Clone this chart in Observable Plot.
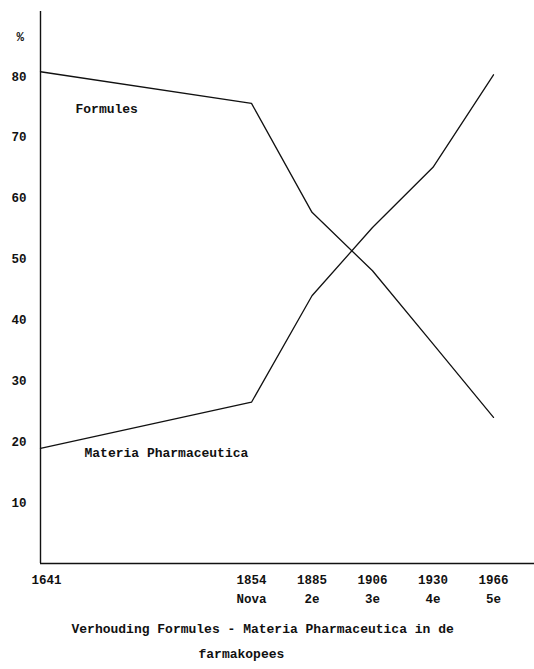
<!DOCTYPE html>
<html>
<head>
<meta charset="utf-8">
<script src="https://cdn.jsdelivr.net/npm/d3@7"></script>
<script src="https://cdn.jsdelivr.net/npm/@observablehq/plot@0.6"></script>
<style>
  html, body { margin: 0; padding: 0; background: #fff; }
  #chart svg { display: block; }
</style>
</head>
<body>
<div id="chart"></div>
<script>
const years = [1641, 1854, 1885, 1906, 1930, 1966];
const yearLabels = ["1641", "1854", "1885", "1906", "1930", "1966"];
const editions = ["", "Nova", "2e", "3e", "4e", "5e"];
const formules = [80.8, 75.6, 57.7, 48.1, 36.1, 24.0];
const materia = [18.9, 26.5, 44.0, 55.2, 65.1, 80.3];
const yTicks = [10, 20, 30, 40, 50, 60, 70, 80];
const seriesNames = ["Formules", "Materia Pharmaceutica"];
const captionLines = ["Verhouding Formules - Materia Pharmaceutica in de", "farmakopees"];

const rows = years.map((y, i) => ({year: y, label: yearLabels[i], edition: editions[i], formules: formules[i], materia: materia[i]}));
const longRows = rows.flatMap(r => [
  {year: r.year, series: seriesNames[0], value: r.formules},
  {year: r.year, series: seriesNames[1], value: r.materia}
]);

const W = 534, H = 669, mL = 40, mT = 11, mB = 106;
// editions after the first are evenly spaced; the first gap is wider
const firstGap = 211, step = 60.5;
const xRange = years.map((_, i) => i === 0 ? mL : mL + firstGap + (i - 1) * step);

const font = "'Liberation Mono', 'DejaVu Sans Mono', monospace";

const chart = Plot.plot({
  width: W,
  height: H,
  marginLeft: mL,
  marginRight: 0,
  marginTop: mT,
  marginBottom: mB,
  style: {fontFamily: font, fontSize: "12.5px", color: "#111", background: "#fff", overflow: "visible"},
  x: {type: "linear", domain: years, range: xRange, axis: null},
  y: {domain: [0, 90.7], axis: null},
  marks: [
    Plot.ruleX([years[0]], {stroke: "#111", strokeWidth: 1.4}),
    Plot.ruleY([0], {stroke: "#111", strokeWidth: 1.4}),
    Plot.axisY({ticks: yTicks, tickSize: 0, tickPadding: 14, fontWeight: "bold", fontSize: 12.5, anchor: "left"}),
    Plot.text(["%"], {frameAnchor: "top-left", dx: -24, dy: 21, fontWeight: "bold", fontSize: 12.5}),
    Plot.line(longRows, {x: "year", y: "value", z: "series", stroke: "#111", strokeWidth: 1.3}),
    Plot.text(rows.slice(0, 1), {x: "year", y: 0, text: "label", dx: 6, dy: 16, fontWeight: "bold", fontSize: 12.5}),
    Plot.text(rows.slice(1), {x: "year", y: 0, text: "label", dy: 16, fontWeight: "bold", fontSize: 12.5}),
    Plot.text(rows, {x: "year", y: 0, text: "edition", dy: 35, fontWeight: "bold", fontSize: 12.5}),
    Plot.text([rows[0]], {x: "year", y: "formules", text: () => seriesNames[0], dx: 35, dy: 37, textAnchor: "start", fontWeight: "bold", fontSize: 13}),
    Plot.text([rows[0]], {x: "year", y: "materia", text: () => seriesNames[1], dx: 44, dy: 4, textAnchor: "start", fontWeight: "bold", fontSize: 13}),
    Plot.text([captionLines[0]], {frameAnchor: "bottom-left", dx: 31, dy: 69, textAnchor: "start", fontWeight: "bold", fontSize: 13}),
    Plot.text([captionLines[1]], {frameAnchor: "bottom-left", dx: 158, dy: 94, textAnchor: "start", fontWeight: "bold", fontSize: 13})
  ]
});
document.getElementById("chart").append(chart);
</script>
</body>
</html>
